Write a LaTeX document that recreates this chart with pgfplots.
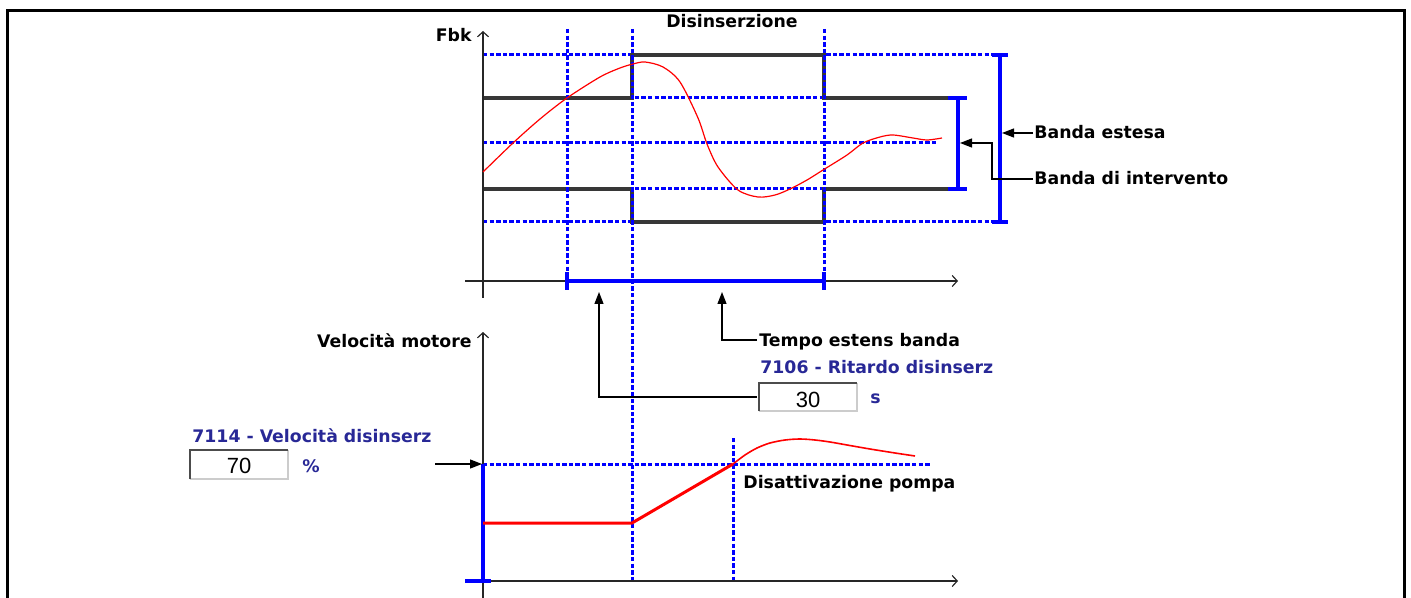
\documentclass[border=0pt]{standalone}
\usepackage{pgfplots}
\pgfplotsset{compat=1.18}
\usetikzlibrary{arrows.meta}
\usepackage{fontspec}
\setmainfont{DejaVu Sans}
\newfontfamily\boxfont{Liberation Sans}
\definecolor{navy}{RGB}{40,40,150}
\definecolor{dkgray}{RGB}{55,55,55}
\definecolor{pblue}{RGB}{0,0,255}
\tikzset{
  dots/.style={pblue, line width=1.5pt, dash pattern=on 2.2pt off 1.1pt},
  band/.style={pblue, line width=1.6pt},
  bandstep/.style={dkgray, line width=1.6pt},
  ax/.style={black!85, line width=0.6pt, -{Straight Barb[length=2.5pt,width=5.5pt]}},
  ann/.style={black, line width=0.6pt, -{Triangle[length=6pt,width=4.5pt]}},
  lbl/.style={font=\bfseries\fontsize{8.65}{10}\selectfont, inner sep=0pt, anchor=base west},
}
\begin{document}
\begin{tikzpicture}
\begin{axis}[
  width=705.5pt, height=299pt, scale only axis,
  xmin=0, xmax=1411, ymin=0, ymax=598, y dir=reverse,
  axis lines=none, clip=false,
]
% frame
\addplot[black, line width=1.5pt] coordinates {(7,598) (7,11) (1404,11) (1404,598)};

% --- upper chart: Fbk ---
% horizontal dotted band levels
\addplot[dots] coordinates {(483,55) (1005,55)};
\addplot[dots] coordinates {(483,98) (950,98)};
\addplot[dots] coordinates {(483,143) (938,143)};
\addplot[dots] coordinates {(483,189) (950,189)};
\addplot[dots] coordinates {(483,222) (1005,222)};
% band steps
\addplot[bandstep] coordinates {(483,98) (632,98) (632,55) (824,55) (824,98) (950,98)};
\addplot[bandstep] coordinates {(483,189) (632,189) (632,222) (824,222) (824,189) (950,189)};
% axes
\addplot[ax] coordinates {(483,298) (483,31)};
\addplot[ax] coordinates {(465,281) (958,281)};
% extended time on the axis
\addplot[band] coordinates {(567,281) (824,281)};
\addplot[band] coordinates {(567,272) (567,290)};
\addplot[band] coordinates {(824,272) (824,290)};
% vertical dotted markers
\addplot[dots] coordinates {(567,29) (567,290)};
\addplot[dots] coordinates {(632,29) (632,580)};
\addplot[dots] coordinates {(824,29) (824,290)};
% brackets
\addplot[band] coordinates {(958,98) (958,189)};
\addplot[band] coordinates {(948,98) (967,98)};
\addplot[band] coordinates {(948,189) (967,189)};
\addplot[band] coordinates {(1000,55) (1000,222)};
\addplot[band] coordinates {(992,55) (1008,55)};
\addplot[band] coordinates {(992,222) (1008,222)};
% feedback
\addplot[red, line width=0.6pt, smooth, tension=0.5] coordinates {
  (483,172) (513,143) (540,119) (567,98) (600,77) (620,68) (633,64) (645,62)
  (663,67) (680,82) (698,118) (707,144) (718,167)
  (738,190) (758,197) (775,195) (790,189) (807,180) (823,170)
  (847,155) (863,143) (880,137) (893,135) (913,138) (927,140) (942,138)
};

% --- lower chart: motor speed ---
\addplot[dots] coordinates {(483,464) (930,464)};
\addplot[dots] coordinates {(733,438) (733,580)};
\addplot[ax] coordinates {(483,598) (483,332)};
\addplot[ax] coordinates {(465,581) (958,581)};
\addplot[band] coordinates {(483,464) (483,581)};
\addplot[band] coordinates {(465,581) (491,581)};
\addplot[red, line width=1.5pt] coordinates {(483,523) (632,523) (733,464)};
\addplot[red, line width=0.8pt, smooth, tension=0.5] coordinates {
  (733,464) (745,455) (757,448) (770,443) (785,440) (800,439) (815,440)
  (830,442) (847,445) (870,449) (895,453) (915,456)
};

% --- annotations ---
\addplot[ann] coordinates {(1033,133) (1002,133)};
\addplot[ann] coordinates {(1033,179) (992,179) (992,143) (960,143)};
\addplot[ann] coordinates {(757,397) (599,397) (599,292)};
\addplot[ann] coordinates {(757,340) (722,340) (722,292)};
\addplot[ann] coordinates {(435,464) (482,464)};

\node[lbl, anchor=base] at (axis cs:732,28) {Disinserzione};
\node[lbl, anchor=base east] at (axis cs:472,42) {Fbk};
\node[lbl] at (axis cs:1034,139) {Banda estesa};
\node[lbl] at (axis cs:1034,185) {Banda di intervento};
\node[lbl] at (axis cs:759,346) {Tempo estens banda};
\node[lbl, text=navy] at (axis cs:760,373) {7106 - Ritardo disinserz};
\node[lbl, anchor=base east] at (axis cs:472,347) {Velocità motore};
\node[lbl, text=navy] at (axis cs:192,442) {7114 - Velocità disinserz};
\node[lbl] at (axis cs:743,488) {Disattivazione pompa};
\node[lbl, text=navy] at (axis cs:302,472) {\%};
\node[lbl, text=navy] at (axis cs:870,403) {s};

% value boxes
\fill[white] (axis cs:190,450) rectangle (axis cs:288,479);
\draw[black!20, line width=0.8pt] (axis cs:190,479) -- (axis cs:288,479) -- (axis cs:288,450);
\draw[black!70, line width=1.1pt] (axis cs:190,479) -- (axis cs:190,450) -- (axis cs:288,450);
\node[font=\boxfont\fontsize{11}{12}\selectfont, anchor=base, inner sep=0pt] at (axis cs:239,473) {70};
\fill[white] (axis cs:759,383) rectangle (axis cs:857,411);
\draw[black!20, line width=0.8pt] (axis cs:759,411) -- (axis cs:857,411) -- (axis cs:857,383);
\draw[black!70, line width=1.1pt] (axis cs:759,411) -- (axis cs:759,383) -- (axis cs:857,383);
\node[font=\boxfont\fontsize{11}{12}\selectfont, anchor=base, inner sep=0pt] at (axis cs:808,407) {30};

\coordinate (bl) at (axis cs:0,598);
\coordinate (tr) at (axis cs:1411,0);
\end{axis}
\pgfresetboundingbox
\path[use as bounding box] (bl) rectangle (tr);
\end{tikzpicture}
\end{document}
